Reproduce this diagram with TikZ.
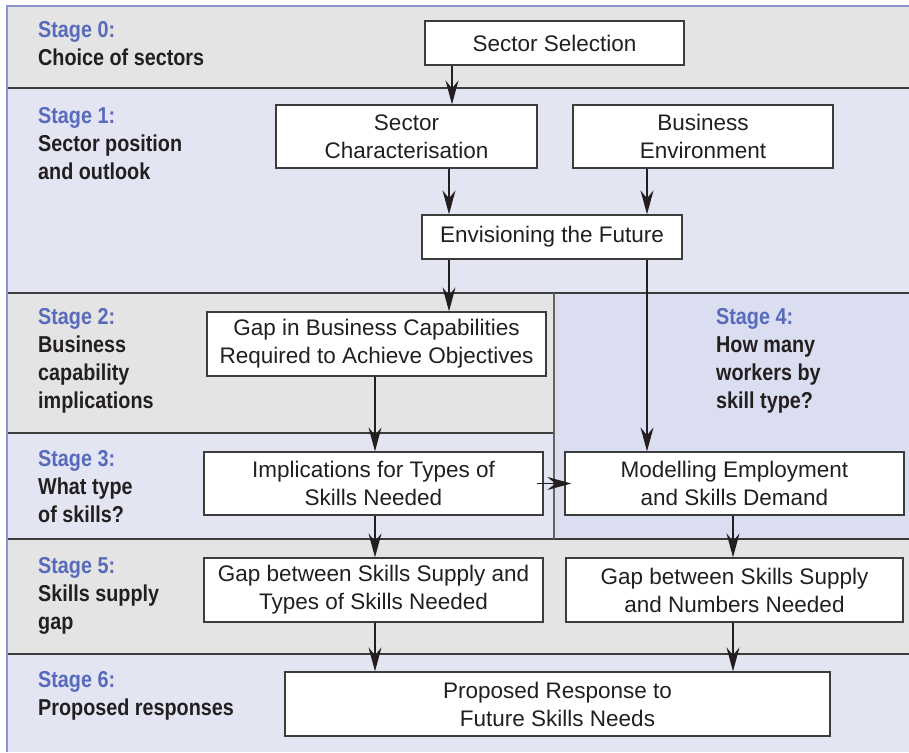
\documentclass[tikz,border=0pt]{standalone}
\usepackage{fontspec}
\setmainfont{Liberation Sans}
\newfontfamily\stagefont{Liberation Sans}[FakeStretch=0.86]
\usetikzlibrary{arrows.meta}
\definecolor{bandgray}{RGB}{228,228,228}
\definecolor{bandlav}{RGB}{227,229,243}
\definecolor{bandfour}{RGB}{219,222,240}
\definecolor{stageblue}{RGB}{88,106,188}
\definecolor{inktext}{RGB}{35,31,32}
\definecolor{frameblue}{RGB}{138,146,208}
\definecolor{sepline}{RGB}{60,60,60}
\tikzset{
  box/.style={draw=sepline, line width=1.3pt, fill=white, inner sep=0pt, align=center,
    font=\fontsize{22.5}{28}\selectfont, text=inktext},
  stagelbl/.style={anchor=north west, inner sep=0pt, align=left,
    font=\stagefont\bfseries\fontsize{23}{28}\selectfont, text=inktext},
  arr/.style={line width=1.3pt, draw=inktext, -{Stealth[length=24pt, width=13pt, inset=8pt]}},
  sep/.style={line width=1.6pt, draw=sepline}
}
\begin{document}
\begin{tikzpicture}[x=1pt, y=-1pt]
\useasboundingbox (0,0) rectangle (909,752);
% bands
\fill[bandgray] (7,6) rectangle (909,88);
\fill[bandlav] (7,88) rectangle (909,293);
\fill[bandgray] (7,293) rectangle (554,433);
\fill[bandlav] (7,433) rectangle (554,539);
\fill[bandfour] (554,293) rectangle (909,539);
\fill[bandgray] (7,539) rectangle (909,654);
\fill[bandlav] (7,654) rectangle (909,752);
% separators
\draw[sep] (7,88) -- (909,88);
\draw[sep] (7,293) -- (909,293);
\draw[sep] (7,433) -- (554,433);
\draw[sep] (7,539) -- (909,539);
\draw[sep] (7,654) -- (909,654);
\draw[line width=2pt, draw=sepline!80] (554,293) -- (554,539);
% frame
\draw[frameblue, line width=2pt] (7,752) -- (7,6) -- (909,6);

% stage labels
\node[stagelbl] (s0) at (38,17.4) {\strut{\color{stageblue}Stage 0:}\\Choice of sectors};
\node[stagelbl] (s1) at (38,103.4) {\strut{\color{stageblue}Stage 1:}\\Sector position\\and outlook};
\node[stagelbl] (s2) at (38,304.4) {\strut{\color{stageblue}Stage 2:}\\Business\\capability\\implications};
\node[stagelbl] (s3) at (38,446.4) {\strut{\color{stageblue}Stage 3:}\\What type\\of skills?};
\node[stagelbl] (s4) at (716,304.4) {\strut{\color{stageblue}Stage 4:}\\How many\\workers by\\skill type?};
\node[stagelbl] (s5) at (38,553.4) {\strut{\color{stageblue}Stage 5:}\\Skills supply\\gap};
\node[stagelbl] (s6) at (38,667.4) {\strut{\color{stageblue}Stage 6:}\\Proposed responses};

% boxes
\node[box, minimum width=259pt, minimum height=44pt] (secsel) at (554.5,43) {Sector Selection};
\node[box, minimum width=261pt, minimum height=63pt] (secchar) at (406.5,136.5) {Sector\\Characterisation};
\node[box, minimum width=260pt, minimum height=63pt] (busenv) at (703,136.5) {Business\\Environment};
\node[box, minimum width=260pt, minimum height=44pt] (envis) at (552,237) {Envisioning the Future};
\node[box, minimum width=339pt, minimum height=64pt] (gapbc) at (376.5,344) {Gap in Business Capabilities\\Required to Achieve Objectives};
\node[box, minimum width=339pt, minimum height=63pt] (impl) at (373.5,483.5) {Implications for Types of\\Skills Needed};
\node[box, minimum width=339pt, minimum height=63pt] (model) at (734.5,483.5) {Modelling Employment\\and Skills Demand};
\node[box, minimum width=339pt, minimum height=64pt] (gapt) at (373.5,590) {Gap between Skills Supply and\\Types of Skills Needed};
\node[box, minimum width=337pt, minimum height=64pt] (gapn) at (734.5,590) {Gap between Skills Supply\\and Numbers Needed};
\node[box, minimum width=545pt, minimum height=64pt] (prop) at (557.5,704) {Proposed Response to\\Future Skills Needs};

% connectors
\draw[arr] (452,0 |- secsel.south) -- (452,0 |- secchar.north);
\draw[arr] (449,0 |- secchar.south) -- (449,0 |- envis.north);
\draw[arr] (647,0 |- busenv.south) -- (647,0 |- envis.north);
\draw[arr] (449,0 |- envis.south) -- (449,0 |- gapbc.north);
\draw[arr] (647,0 |- envis.south) -- (647,0 |- model.north);
\draw[arr] (375,0 |- gapbc.south) -- (375,0 |- impl.north);
\draw[arr] ([xshift=-7pt]impl.east) -- ([xshift=7pt]model.west);
\draw[arr] (375,0 |- impl.south) -- (375,0 |- gapt.north);
\draw[arr] (733,0 |- model.south) -- (733,0 |- gapn.north);
\draw[arr] (375,0 |- gapt.south) -- (375,0 |- prop.north);
\draw[arr] (733,0 |- gapn.south) -- (733,0 |- prop.north);
\end{tikzpicture}
\end{document}
